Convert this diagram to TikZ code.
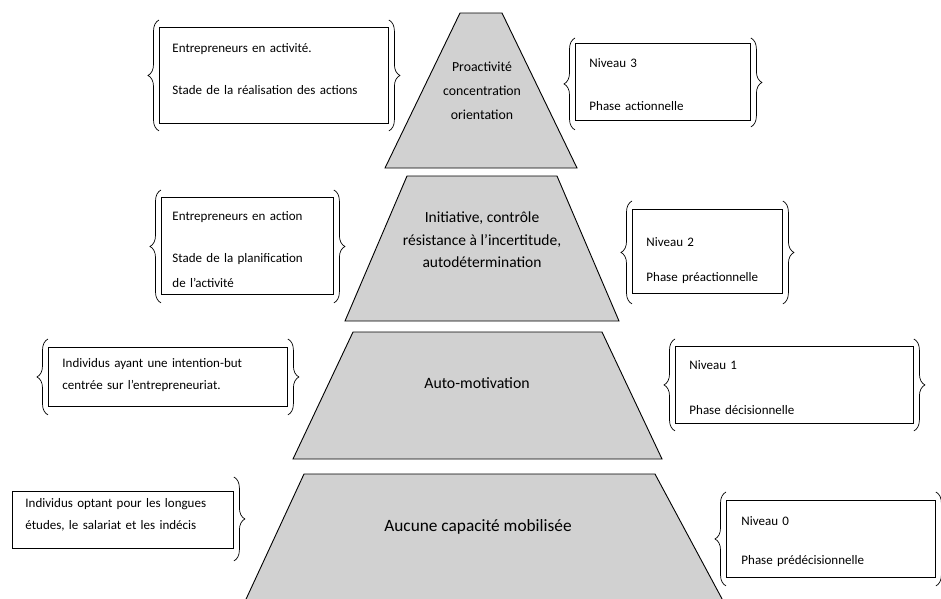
\documentclass[tikz,border=0pt]{standalone}
\usepackage{fontspec}
\setmainfont{Carlito}
\usetikzlibrary{positioning,decorations.pathreplacing}
\definecolor{pyrgray}{RGB}{209,209,209}

\begin{document}
\begin{tikzpicture}[x=1pt,y=-1pt,
    layer/.style={fill=pyrgray, draw=black, line width=0.9pt},
    layertext/.style={align=center, inner sep=0pt},
    infobox/.style={draw, line width=0.9pt, fill=white, anchor=north west, align=left, inner ysep=0pt, font=\fontsize{13}{22}\selectfont},
    curly/.style={decorate, decoration={brace, amplitude=11pt}, line width=0.7pt}]
\useasboundingbox (0,0) rectangle (941,598);
        % the four levels of the pyramid
        \filldraw[layer] (460,13) -- (502,13) -- (577,168) -- (385,168) -- cycle;
        \filldraw[layer] (407,176) -- (557,176) -- (619,321) -- (345,321) -- cycle;
        \filldraw[layer] (353,332) -- (602,332) -- (662,459) -- (293,459) -- cycle;
        \filldraw[layer] (304,474) -- (655,474) -- (728,610) -- (241,610) -- cycle;
        \node[layertext, font=\fontsize{13.8}{24}\selectfont] (lvlthree) at (482,91) {Proactivité\\concentration\\orientation};
        \node[layertext, font=\fontsize{15.5}{22.5}\selectfont] (lvltwo) at (482,240) {Initiative, contrôle\\résistance à l’incertitude,\\autodétermination};
        \node[layertext, font=\fontsize{15.8}{18}\selectfont] (lvlone) at (477,383) {Auto-motivation};
        \node[layertext, font=\fontsize{17.3}{20}\selectfont] (lvlzero) at (478,527) {Aucune capacité mobilisée};
        % who is on each level (left)
        \node[infobox, inner xsep=13pt, text width=203pt, text height=25pt, text depth=71pt] (who3) at (159,27) {Entrepreneurs en activité.\\[20pt]Stade de la réalisation des actions};
        \node[infobox, inner xsep=11pt, text width=150pt, text height=23pt, text depth=74pt] (who2) at (161,197) {Entrepreneurs en action\\[20pt]Stade de la planification\\[3pt]de l’activité};
        \node[infobox, inner xsep=14pt, text width=211pt, text height=20pt, text depth=39pt] (who1) at (48,347) {Individus ayant une intention-but\\centrée sur l’entrepreneuriat.};
        \node[infobox, inner xsep=13pt, text width=195pt, text height=16pt, text depth=41pt] (who0) at (12,491) {Individus optant pour les longues\\études, le salariat et les indécis};
        % level and phase (right)
        \node[infobox, inner xsep=14pt, text width=147pt, text height=24pt, text depth=53pt] (phase3) at (575,43) {Niveau 3\\[21pt]Phase actionnelle};
        \node[infobox, inner xsep=14pt, text width=122pt, text height=37pt, text depth=47pt] (phase2) at (632,209) {Niveau 2\\[13pt]Phase préactionnelle};
        \node[infobox, inner xsep=14pt, text width=210pt, text height=23pt, text depth=54pt] (phase1) at (675,346) {Niveau 1\\[23pt]Phase décisionnelle};
        \node[infobox, inner xsep=15pt, text width=179pt, text height=25pt, text depth=52pt] (phase0) at (726,500) {Niveau 0\\[17pt]Phase prédécisionnelle};
        % braces
        \draw[curly] ([yshift=-7pt]who3.south west) -- ([yshift=7pt]who3.north west);
        \draw[curly] ([yshift=7pt]who3.north east) -- ([yshift=-7pt]who3.south east);
        \draw[curly] ([yshift=-8pt]who2.south west) -- ([yshift=7pt]who2.north west);
        \draw[curly] ([yshift=7pt]who2.north east) -- ([yshift=-8pt]who2.south east);
        \draw[curly] ([yshift=-8pt]who1.south west) -- ([yshift=8pt]who1.north west);
        \draw[curly] ([yshift=8pt]who1.north east) -- ([yshift=-8pt]who1.south east);
        \draw[curly] ([yshift=14pt]who0.north east) -- ([yshift=-12pt]who0.south east);
        \draw[curly] ([yshift=-9pt]phase3.south west) -- ([yshift=5pt]phase3.north west);
        \draw[curly] ([yshift=5pt]phase3.north east) -- ([yshift=-6pt]phase3.south east);
        \draw[curly] ([yshift=-10pt]phase2.south west) -- ([yshift=8pt]phase2.north west);
        \draw[curly] ([yshift=8pt]phase2.north east) -- ([yshift=-10pt]phase2.south east);
        \draw[curly] ([yshift=-7pt]phase1.south west) -- ([yshift=7pt]phase1.north west);
        \draw[curly] ([yshift=7pt]phase1.north east) -- ([yshift=-7pt]phase1.south east);
        \draw[curly] ([yshift=-8pt]phase0.south west) -- ([yshift=8pt]phase0.north west);
        \draw[curly] ([yshift=8pt]phase0.north east) -- ([yshift=-8pt]phase0.south east);
\end{tikzpicture}
\end{document}
